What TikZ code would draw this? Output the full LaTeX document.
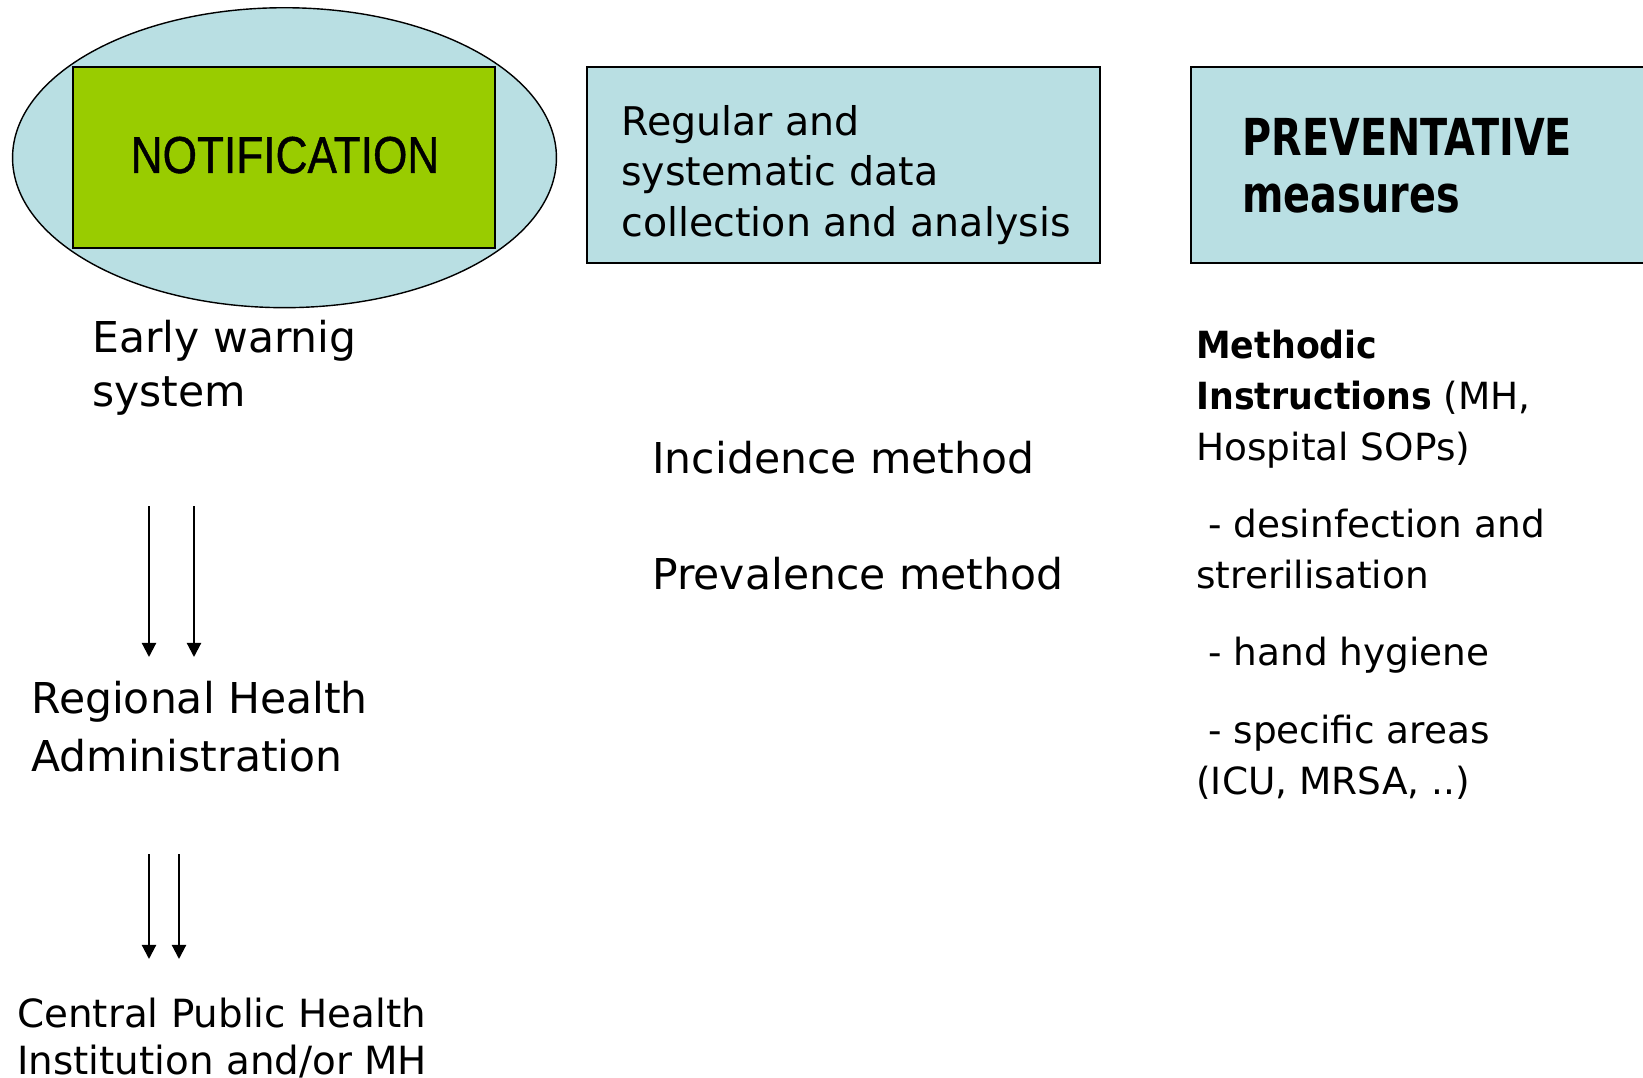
\documentclass[tikz,border=0pt]{standalone}
\usepackage{fontspec}
\setmainfont{DejaVu Sans}
\newfontfamily\narrowfont{DejaVu Sans}[FakeStretch=0.78]
\newfontfamily\widebold{DejaVu Sans}[FakeStretch=0.93]
\newfontfamily\notiffont{Liberation Sans}[FakeStretch=0.85,FakeBold=0.8]
\usetikzlibrary{arrows.meta, positioning, shapes.geometric}

\definecolor{paleblue}{RGB}{185,223,227}
\definecolor{notifgreen}{RGB}{153,204,0}

\begin{document}
\begin{tikzpicture}[x=0.02cm,y=-0.02cm,
  bluebox/.style={rectangle,draw=black,line width=1.1pt,fill=paleblue,minimum height=3.92cm},
  plaintext/.style={anchor=base west,align=left,inner sep=0pt},
  flow/.style={line width=1.2pt,->,>={Triangle[length=8pt,width=8pt]}}]
\useasboundingbox (0,0) rectangle (1643,1078);
\clip (0,0) rectangle (1643,1078);
% left column: notification (base = last line)
\node[ellipse,draw=black,line width=0.8pt,fill=paleblue,minimum width=10.88cm,minimum height=6cm] (alert) at (284.5,157.7) {};
\node[rectangle,draw=black,line width=1.1pt,fill=notifgreen,minimum width=8.46cm,minimum height=3.62cm] (notif) at (284,157.6) {};
\node[anchor=base,inner sep=0pt,font=\notiffont\fontsize{29.6pt}{32pt}\selectfont] (notiftxt) at (285,173) {NOTIFICATION};
\node[plaintext,font=\fontsize{24.2pt}{30.2pt}\selectfont] (ews) at (92,406) {Early warnig\\system};
\node[plaintext,font=\fontsize{24.2pt}{32.7pt}\selectfont] (rha) at (31,771) {Regional Health\\Administration};
\node[plaintext,font=\fontsize{22.1pt}{26.7pt}\selectfont] (cph) at (17,1074) {Central Public Health\\Institution and/or MH};
\coordinate (ews1) at (149,506);
\coordinate (ews2) at (194,506);
\coordinate (rha1) at (149,657);
\coordinate (rha2) at (194,657);
\coordinate (rhb1) at (149,854);
\coordinate (rhb2) at (179,854);
\coordinate (cph1) at (149,959);
\coordinate (cph2) at (179,959);
\draw[flow] (ews1) -- (rha1);
\draw[flow] (ews2) -- (rha2);
\draw[flow] (rhb1) -- (cph1);
\draw[flow] (rhb2) -- (cph2);
% middle column: data collection
\node[bluebox,minimum width=10.26cm] (datbox) at (843.4,165) {};
\node[plaintext,font=\fontsize{22.5pt}{28.7pt}\selectfont] (dattxt) at (621,236) {Regular and\\systematic data\\collection and analysis};
\node[plaintext,font=\fontsize{24.2pt}{30pt}\selectfont] (inc) at (652,473.6) {Incidence method};
\node[plaintext,font=\fontsize{24.2pt}{30pt}\selectfont] (prev) at (652,589) {Prevalence method};
% right column: prevention
\node[bluebox,minimum width=10.58cm] (prevbox) at (1455.5,165) {};
\node[plaintext,font=\narrowfont\bfseries\fontsize{29pt}{32.4pt}\selectfont] (prevtxt) at (1242,212) {PREVENTATIVE\\measures};
\node[plaintext,font=\fontsize{21.3pt}{29pt}\selectfont] (instr) at (1196,794)
  {{\widebold\bfseries Methodic}\\{\widebold\bfseries Instructions} (MH,\\Hospital SOPs)\\[15pt]
   ~- desinfection and\\strerilisation\\[15pt]~- hand hygiene\\[15pt]~- specific areas\\(ICU, MRSA, ..)};
\end{tikzpicture}
\end{document}
